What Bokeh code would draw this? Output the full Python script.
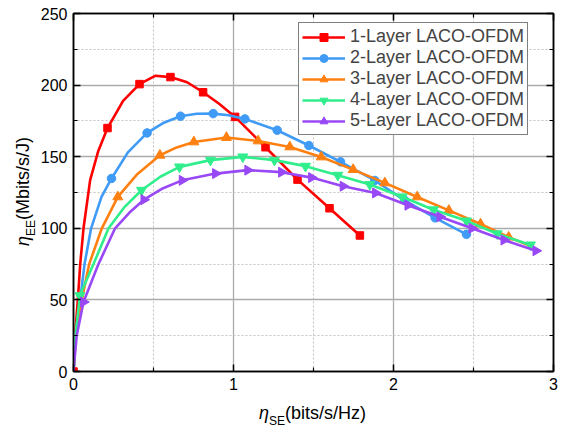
import numpy as np
from bokeh.plotting import figure
from bokeh.models import Range1d, FixedTicker, LinearAxis, Legend, LegendItem, Div
from bokeh.layouts import row, column
from bokeh.embed import file_html
from bokeh.resources import INLINE

# ---------------- data ----------------
series_labels = ["1-Layer LACO-OFDM", "2-Layer LACO-OFDM", "3-Layer LACO-OFDM",
                 "4-Layer LACO-OFDM", "5-Layer LACO-OFDM"]
series_colors = ["#FF0000", "#3F9BF5", "#FF8010", "#30EE8C", "#9848F5"]
series_markers = ["square", "circle", "triangle", "inverted_triangle", "triangle"]
series_angles = [0.0, 0.0, 0.0, 0.0, -np.pi / 2]
series_sizes = [7.5, 8.5, 10, 10, 10]

# curve 1
l1_x = [0, 0.01, 0.027, 0.042, 0.0625, 0.104, 0.155, 0.2125, 0.31, 0.4125, 0.51, 0.606, 0.71, 0.81, 0.91, 1.01, 1.2, 1.4, 1.6, 1.79]
l1_y = [0, 25, 50, 75, 100, 133.6, 154, 170, 189, 200.7, 206.5, 205.6, 202, 195, 187, 177.8, 156.6, 134, 114, 95]
m1_x = [0, 0.2125, 0.4125, 0.606, 0.81, 1.01, 1.2, 1.4, 1.6, 1.79]
m1_y = [0, 170, 200.7, 205.6, 195, 177.8, 156.6, 134, 114, 95]

# curve 2
l2_x = [0, 0.012, 0.042, 0.069, 0.11, 0.175, 0.2375, 0.34, 0.46, 0.56, 0.669, 0.77, 0.873, 0.97, 1.071, 1.273, 1.471, 1.669, 1.883, 2.07, 2.26, 2.456]
l2_y = [0, 25, 50, 75, 100, 122, 134.8, 153, 166.6, 173.5, 178.3, 180, 180.1, 179, 176.4, 168.5, 157.8, 146.4, 133.4, 119.5, 107.3, 95.8]
m2_x = [0.2375, 0.46, 0.669, 0.873, 1.071, 1.273, 1.471, 1.669, 1.883, 2.07, 2.26, 2.456]
m2_y = [134.8, 166.6, 178.3, 180.1, 176.4, 168.5, 157.8, 146.4, 133.4, 119.5, 107.3, 95.8]

# curve 3
l3_x = [0, 0.015, 0.052, 0.098, 0.177, 0.277, 0.4, 0.54, 0.645, 0.752, 0.956, 1.154, 1.352, 1.548, 1.748, 1.946, 2.148, 2.346, 2.544, 2.72, 2.85]
l3_y = [0, 25, 50, 75, 100, 121.9, 138, 151, 156.5, 160.3, 163.4, 161, 156.8, 149.8, 141, 131.7, 121.9, 112.5, 103, 93.8, 88]
m3_x = [0.277, 0.54, 0.752, 0.956, 1.154, 1.352, 1.548, 1.748, 1.946, 2.148, 2.346, 2.544, 2.72]
m3_y = [121.9, 151, 160.3, 163.4, 161, 156.8, 149.8, 141, 131.7, 121.9, 112.5, 103, 93.8]

# curve 4
l4_x = [0, 0.015, 0.04, 0.125, 0.219, 0.32, 0.425, 0.5425, 0.6625, 0.856, 1.058, 1.256, 1.45, 1.652, 1.852, 2.054, 2.25, 2.456, 2.648, 2.856]
l4_y = [0, 28, 53, 75, 100, 115, 126.6, 136, 142.9, 147.6, 149.9, 147.6, 143.4, 137.1, 130.6, 122, 113, 105.2, 96.2, 88.4]
m4_x = [0.04, 0.425, 0.6625, 0.856, 1.058, 1.256, 1.45, 1.652, 1.852, 2.054, 2.25, 2.456, 2.648, 2.856]
m4_y = [53, 126.6, 142.9, 147.6, 149.9, 147.6, 143.4, 137.1, 130.6, 122, 113, 105.2, 96.2, 88.4]

# curve 5
l5_x = [0, 0.02, 0.0625, 0.156, 0.26, 0.35, 0.44, 0.56, 0.679, 0.8875, 1.089, 1.3, 1.4875, 1.685, 1.8875, 2.09, 2.29, 2.49, 2.69, 2.89]
l5_y = [0, 25, 48.5, 75, 100, 111, 120, 128, 133.5, 138.2, 140.6, 139.2, 135.4, 129.4, 124.7, 116.1, 108, 100, 91.8, 84.3]
m5_x = [0.0625, 0.44, 0.679, 0.8875, 1.089, 1.3, 1.4875, 1.685, 1.8875, 2.09, 2.29, 2.49, 2.69, 2.89]
m5_y = [48.5, 120, 133.5, 138.2, 140.6, 139.2, 135.4, 129.4, 124.7, 116.1, 108, 100, 91.8, 84.3]

x_major = [0, 1, 2, 3]
x_minor = [0.5, 1.5, 2.5]
y_major = [0, 50, 100, 150, 200, 250]
y_minor = [25, 75, 125, 175, 225]

lines = [(l1_x, l1_y), (l2_x, l2_y), (l3_x, l3_y), (l4_x, l4_y), (l5_x, l5_y)]
marks = [(m1_x, m1_y), (m2_x, m2_y), (m3_x, m3_y), (m4_x, m4_y), (m5_x, m5_y)]

FONT = "Liberation Sans"

p = figure(width=530, height=400, x_range=Range1d(0, 3), y_range=Range1d(0, 250),
           output_backend="svg", toolbar_location=None,
           min_border_left=38, min_border_right=12, min_border_top=13, min_border_bottom=29)
p.background_fill_color = "white"
p.outline_line_color = "black"
p.outline_line_width = 1.5

xt = FixedTicker(ticks=x_major, minor_ticks=x_minor)
yt = FixedTicker(ticks=y_major, minor_ticks=y_minor)

for ax in (p.xaxis[0], p.yaxis[0]):
    ax.axis_line_color = "black"
    ax.axis_line_width = 1.5
    ax.major_tick_in = 7
    ax.major_tick_out = 0
    ax.minor_tick_in = 4
    ax.minor_tick_out = 0
    ax.major_tick_line_width = 1.5
    ax.minor_tick_line_width = 1.2
    ax.major_tick_line_color = "black"
    ax.minor_tick_line_color = "black"
    ax.major_label_text_font = FONT
    ax.major_label_text_font_size = "16px"
    ax.major_label_text_color = "black"
    ax.major_label_standoff = 6
p.xaxis[0].ticker = xt
p.yaxis[0].ticker = yt

for side, tk, ticks in (("right", yt, y_major), ("above", xt, x_major)):
    ax = LinearAxis(ticker=tk, major_label_overrides={t: "" for t in ticks},
                    major_label_standoff=0, major_label_text_font_size="10px",
                    axis_line_color="black", axis_line_width=1.5,
                    major_tick_in=7, major_tick_out=0, minor_tick_in=4, minor_tick_out=0,
                    major_tick_line_width=1.5, minor_tick_line_width=1.2,
                    major_tick_line_color="black", minor_tick_line_color="black")
    p.add_layout(ax, side)

for g in (p.xgrid[0], p.ygrid[0]):
    g.grid_line_color = "#ababab"
    g.grid_line_width = 1.3
    g.minor_grid_line_color = "#c4c4c4"
    g.minor_grid_line_width = 1
    g.minor_grid_line_dash = "2 2"
p.xgrid[0].ticker = xt
p.ygrid[0].ticker = yt

items = []
for i in range(5):
    lx, ly = lines[i]
    mx, my = marks[i]
    c = series_colors[i]
    r1 = p.line(lx, ly, line_color=c, line_width=2.6)
    r2 = p.scatter(mx, my, marker=series_markers[i], size=series_sizes[i],
                   angle=series_angles[i], fill_color=c, line_color=c)
    items.append(LegendItem(label=series_labels[i], renderers=[r1, r2]))

legend = Legend(items=items, location=(225, 236), label_text_font=FONT,
                label_text_font_size="18px", glyph_width=43, glyph_height=20,
                label_height=20, spacing=0, padding=3, margin=0, label_standoff=5,
                border_line_color="black", border_line_width=1,
                background_fill_color="white", background_fill_alpha=1)
p.add_layout(legend)

# axis titles with subscripts, as real HTML text
TXT = "font-family:Liberation Sans,Arial,sans-serif;font-size:18px;line-height:1;color:black;white-space:nowrap;"
SUB = "font-size:12px;line-height:1;vertical-align:-6px;"

x_title = Div(width=530, height=28, margin=0, text=(
    '<div style="position:relative;width:530px;height:28px;">'
    f'<div style="position:absolute;left:224px;top:4px;{TXT}">'
    f'<i>η</i><span style="{SUB}">SE</span>(bits/s/Hz)</div></div>'))

y_title = Div(width=35, height=428, margin=0, text=(
    '<div style="position:relative;width:35px;height:428px;">'
    f'<div style="position:absolute;left:14px;top:246px;transform-origin:0 0;'
    f'transform:rotate(-90deg);{TXT}">'
    f'<i>η</i><span style="{SUB}">EE</span>(Mbits/s/J)</div></div>'))

layout = row(y_title, column(p, x_title, spacing=0), spacing=0)

open("out.html", "w").write(file_html(layout, INLINE))
